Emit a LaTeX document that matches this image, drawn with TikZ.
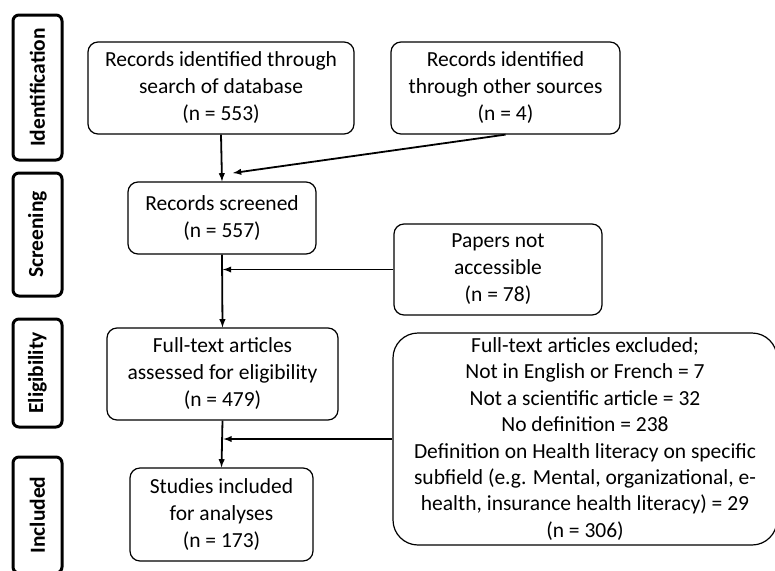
\documentclass[tikz,border=0pt]{standalone}
\usepackage{fontspec}
\setmainfont{Carlito}
\usepackage{tikz}
\usetikzlibrary{positioning}

\begin{document}
\begin{tikzpicture}[x=1pt, y=-1pt, line width=1.2pt,
        box/.style={draw, rounded corners=10pt, align=center, inner sep=0pt,
                    font=\fontsize{21.5}{27}\selectfont},
        phase/.style={draw, line width=3pt, rounded corners=6pt, rotate=90,
                      minimum height=49pt, inner sep=0pt,
                      font=\bfseries\fontsize{21.5}{26}\selectfont},
        flow/.style={-latex, line width=1.8pt}]
            % page frame
            \clip (0, 0) rectangle (775, 570);

            % draw phase labels on the left
            \node[phase, minimum width=145pt] (ident)  at (37.5,  87.5) {Identification};
            \node[phase, minimum width=123pt] (screen) at (37.5, 234.5) {Screening};
            \node[phase, minimum width=108pt] (elig)   at (37.5, 373)   {Eligibility};
            \node[phase, minimum width=116pt] (incl)   at (37.5, 515)   {Included};

            % draw flow boxes
            \node[box, minimum width=266pt, minimum height=92pt] (database) at (221, 88)
                {Records identified through\\search of database\\(n = 553)};
            \node[box, minimum width=229pt, minimum height=92pt] (other) at (505.5, 88)
                {Records identified\\through other sources\\(n = 4)};
            \node[box, minimum width=188pt, minimum height=72pt] (screened) at (222, 218)
                {Records screened\\(n = 557)};
            \node[box, minimum width=208pt, minimum height=91pt] (papers) at (498, 269.5)
                {Papers not\\accessible\\(n = 78)};
            \node[box, minimum width=231pt, minimum height=92pt] (fulltext) at (222.5, 374)
                {Full-text articles\\assessed for eligibility\\(n = 479)};
            \node[box, minimum width=183pt, minimum height=93pt] (studies) at (221.5, 514.5)
                {Studies included\\for analyses\\(n = 173)};
            \node[box, rounded corners=25pt, minimum width=384pt, minimum height=212pt,
                  font=\fontsize{21.5}{26.4}\selectfont] (excluded) at (585, 439)
                {Full-text articles excluded;\\Not in English or French = 7\\
                 Not a scientific article = 32\\No definition = 238\\
                 Definition on Health literacy on specific\\
                 subfield (e.g. Mental, organizational, e-\\
                 health, insurance health literacy) = 29\\(n = 306)};

            % draw arrows
            \coordinate (merge) at (233, 173);
            \draw[flow] (database.south) -- (screened.north);
            \draw[flow] (other.south) -- (merge);
            \draw[flow] (screened.south) -- (fulltext.north);
            \draw[flow] (papers.west) -- ([xshift=1pt]papers.west -| screened.south);
            \draw[flow] (fulltext.south) -- (studies.north);
            \draw[flow] (excluded.west) -- ([xshift=1pt]excluded.west -| fulltext.south);
\end{tikzpicture}
\end{document}
